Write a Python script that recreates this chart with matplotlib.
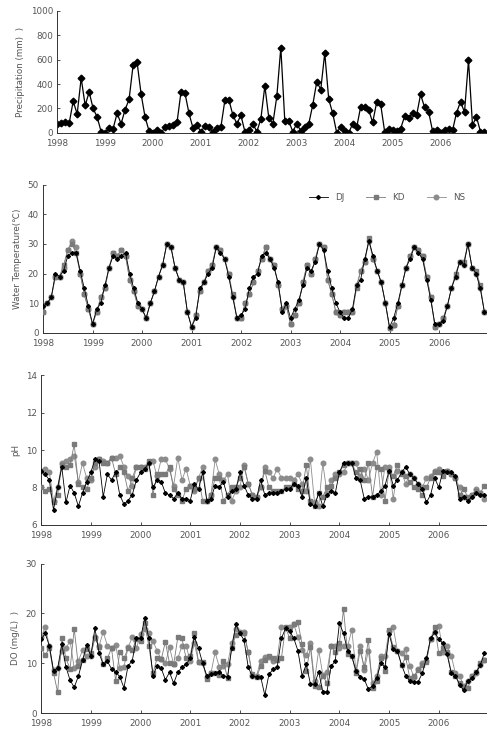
import numpy as np
import matplotlib
matplotlib.use('Agg')
import matplotlib.pyplot as plt

# monthly series, Jan 1998 - Dec 2006
months = 1998 + np.arange(108) / 12.0
years = list(range(1998, 2007))

precip = [75, 80, 85, 80, 260, 155, 450, 225, 335, 200, 130, 10,
          0, 40, 35, 160, 75, 190, 275, 555, 580, 320, 130, 15,
          0, 25, 0, 45, 60, 65, 85, 335, 325, 160, 40, 65,
          5, 60, 50, 5, 40, 50, 270, 270, 145, 75, 145, 10,
          20, 75, 10, 115, 385, 120, 75, 300, 700, 95, 95, 10,
          75, 15, 45, 75, 230, 420, 355, 655, 275, 160, 0, 50,
          15, 0, 75, 45, 215, 210, 190, 85, 250, 235, 10, 35,
          25, 15, 35, 135, 120, 165, 145, 315, 210, 175, 15, 25,
          0, 20, 30, 20, 165, 255, 170, 595, 65, 130, 10, 5]

temp_dj = [9, 10, 12, 20, 19, 21, 26, 27, 27, 21, 15, 9,
           3, 8, 10, 16, 22, 26, 25, 26, 27, 20, 15, 10,
           8, 5, 10, 14, 19, 23, 30, 29, 22, 18, 17, 7,
           2, 5, 15, 17, 20, 22, 29, 27, 25, 19, 12, 5,
           6, 8, 15, 19, 20, 26, 27, 25, 22, 17, 7, 10,
           5, 8, 11, 16, 22, 21, 24, 30, 28, 21, 15, 10,
           7, 5, 5, 8, 16, 18, 25, 31, 26, 21, 17, 10,
           2, 5, 10, 16, 22, 25, 29, 27, 25, 18, 11, 3,
           3, 4, 9, 15, 19, 24, 23, 30, 22, 20, 15, 7]
temp_kd = [7, 10, 12, 19, 19, 23, 28, 30, 27, 20, 13, 8,
           3, 7, 12, 15, 22, 27, 26, 28, 26, 18, 14, 9,
           8, 5, 10, 14, 19, 23, 30, 29, 22, 18, 17, 7,
           2, 6, 14, 17, 21, 23, 29, 28, 25, 20, 13, 5,
           5, 10, 13, 17, 21, 25, 29, 25, 23, 16, 8, 9,
           3, 6, 10, 17, 23, 20, 25, 30, 29, 18, 13, 7,
           6, 7, 7, 7, 15, 21, 24, 32, 25, 21, 17, 10,
           1.5, 2.5, 9, 16, 22, 26, 29, 28, 26, 19, 12, 2,
           3, 5, 9, 15, 20, 24, 24, 30, 22, 21, 16, 7]
temp_ns = [7, 10, 12, 19, 19, 22, 28, 31, 29, 20, 13, 8,
           3, 7, 12, 15, 22, 27, 26, 28, 26, 18, 14, 9,
           8, 5, 10, 14, 19, 23, 30, 29, 22, 18, 17, 7,
           2, 6, 14, 17, 21, 23, 29, 28, 25, 20, 12, 5,
           5, 10, 13, 17, 21, 25, 29, 25, 23, 16, 8, 9,
           3, 6, 10, 17, 23, 20, 25, 30, 29, 18, 13, 7,
           6, 7, 7, 7, 16, 21, 24, 31, 25, 21, 17, 10,
           1.5, 2.5, 9, 16, 22, 26, 29, 28, 26, 19, 12, 2,
           3, 5, 9, 15, 19, 24, 23, 30, 22, 20, 15, 7]

ph_dj = [8.9, 8.7, 8.4, 6.8, 8.0, 9.1, 7.2, 8.1, 7.7, 7.0, 7.7, 8.3,
         8.8, 9.5, 9.4, 7.5, 8.7, 8.4, 8.8, 7.6, 7.1, 7.3, 7.6, 8.4,
         8.8, 9.0, 9.3, 8.0, 8.4, 8.3, 7.7, 7.6, 7.4, 7.7, 7.4, 7.4,
         7.3, 8.2, 7.9, 8.8, 7.3, 7.4, 8.1, 8.0, 8.3, 7.5, 7.8, 7.9,
         8.8, 8.1, 7.6, 7.4, 7.4, 8.4, 7.6, 7.7, 7.7, 7.7, 7.8, 7.9,
         7.9, 8.2, 8.1, 7.5, 8.5, 7.1, 7.0, 7.7, 7.0, 7.6, 7.8, 7.7,
         8.8, 9.3, 9.3, 9.3, 8.5, 8.4, 7.4, 7.5, 7.5, 7.6, 7.8, 8.1,
         8.9, 8.1, 8.4, 8.8, 9.1, 8.7, 8.5, 8.2, 7.9, 7.2, 7.6, 8.5,
         8.0, 8.9, 8.8, 8.8, 8.6, 7.4, 7.5, 7.3, 7.5, 7.7, 7.6, 7.6]
ph_kd = [8.0, 7.8, 7.9, 7.2, 7.6, 9.2, 9.1, 9.2, 10.3, 8.2, 8.0, 7.9,
         8.5, 9.3, 9.5, 9.3, 9.3, 9.6, 8.7, 9.1, 8.8, 7.8, 8.5, 9.1,
         9.1, 9.0, 9.4, 7.6, 8.7, 8.7, 8.7, 9.1, 7.9, 7.6, 7.3, 7.9,
         8.1, 7.9, 8.5, 7.3, 7.3, 7.6, 8.5, 8.5, 7.3, 7.6, 8.0, 8.0,
         8.5, 9.1, 8.2, 7.6, 7.5, 8.0, 8.9, 8.0, 7.8, 7.8, 7.8, 8.0,
         8.0, 8.2, 7.9, 7.8, 9.2, 7.3, 7.0, 7.7, 7.5, 8.0, 8.1, 8.5,
         8.8, 9.2, 9.3, 9.3, 8.8, 9.0, 8.4, 9.3, 7.5, 9.1, 9.0, 7.3,
         8.9, 8.6, 9.2, 8.7, 8.6, 8.3, 8.0, 7.9, 7.6, 8.0, 8.5, 8.8,
         8.8, 8.6, 8.9, 8.7, 8.5, 7.6, 7.9, 7.5, 7.6, 7.8, 7.7, 8.1]
ph_ns = [8.9, 9.0, 8.8, 7.3, 8.0, 9.3, 9.4, 9.5, 9.7, 8.3, 9.3, 8.5,
         8.4, 9.1, 9.5, 9.4, 9.3, 9.6, 9.6, 9.7, 9.1, 8.6, 8.1, 9.1,
         9.1, 9.1, 9.3, 9.4, 8.6, 9.5, 9.5, 9.0, 8.1, 9.6, 8.4, 9.0,
         8.1, 7.8, 8.5, 9.1, 7.3, 7.6, 9.5, 8.7, 8.4, 8.7, 7.3, 7.8,
         8.0, 9.2, 8.2, 7.6, 7.5, 8.0, 9.1, 8.8, 8.5, 9.0, 8.5, 8.5,
         8.5, 8.4, 8.7, 8.2, 7.8, 9.5, 7.2, 7.0, 9.3, 7.7, 8.4, 8.7,
         8.7, 8.8, 9.3, 9.3, 9.3, 8.6, 9.0, 8.4, 9.3, 9.9, 7.6, 9.1,
         9.1, 7.4, 8.9, 8.8, 8.2, 8.7, 8.5, 8.2, 8.0, 8.5, 8.6, 8.9,
         9.0, 8.8, 8.9, 8.7, 8.5, 8.0, 7.5, 7.4, 7.6, 7.9, 7.7, 7.4]

do_dj = [14.8, 16, 13.5, 8.5, 9, 13.8, 9.3, 6.6, 5.2, 7.4, 10.6, 13.6,
         11.5, 17, 12, 9.8, 10.4, 8.9, 8.3, 7.3, 5.1, 9.5, 10.5, 15,
         15, 19, 15, 7.5, 9.5, 9, 6.7, 8.2, 6.0, 8.2, 9.2, 9.8,
         11, 15.3, 13, 10, 7.5, 7.8, 8, 8.3, 7.5, 7.3, 13, 17.8,
         16, 14.6, 9.2, 7.4, 7.3, 7.3, 3.6, 7.8, 8.8, 9.3, 15, 17,
         16.4, 15, 12.5, 7.5, 9.8, 5.9, 5.8, 8.3, 4.3, 4.3, 9.4, 10.5,
         18, 16, 12.4, 11.4, 8.5, 7.3, 6.8, 4.8, 5.5, 7, 10, 9.3,
         15.8, 12.8, 12.5, 9.7, 7.5, 6.5, 6.3, 6.3, 8, 11, 15, 16.2,
         14.8, 14, 11.8, 8, 7.5, 5.7, 4.6, 6.5, 7, 8.2, 9.6, 12.1]
do_kd = [13, 11.7, 13, 8.1, 4.2, 15, 11, 8.9, 16.9, 9.5, 10.6, 12.8,
         12, 15, 13.3, 9.8, 11, 13, 6.5, 12.3, 11, 13, 12.7, 14.9,
         14.5, 18, 13.5, 8, 11, 10.8, 14.3, 10, 9.8, 15.2, 15, 11,
         11.5, 16, 10.2, 10.2, 6.8, 8, 8, 7.6, 10.5, 7, 13, 15.7,
         16, 16, 12.2, 7.8, 7.2, 9.4, 10.6, 11.5, 11, 10.6, 11, 17.2,
         15, 17.8, 18.2, 13.8, 8.4, 13.3, 5.5, 5.2, 7.5, 6, 13.5, 12.3,
         14, 20.8, 11.8, 11.5, 8, 12.5, 9.3, 14.7, 5, 6.5, 11, 8.5,
         16.6, 13.2, 12.5, 9.6, 11.2, 7, 7.5, 8.6, 9.7, 10.2, 14.8, 17.2,
         12, 13, 12.3, 8.2, 7.5, 6, 5.2, 5, 7.5, 8.3, 10, 10.7]
do_ns = [15.2, 17.3, 13.5, 8.6, 9, 12.4, 13, 14.5, 9, 10.5, 12.6, 11.5,
         11.5, 15.2, 13.5, 16.3, 13.5, 13, 13.7, 9, 9.3, 13.2, 15.2, 13,
         15.8, 16.8, 16, 14.5, 12.5, 10.8, 10, 13.2, 9.8, 11, 13.5, 13.5,
         10.5, 14, 10.3, 10, 7.3, 8, 12.2, 9.3, 9.5, 9.8, 14, 16.8,
         16.2, 16.2, 12.2, 7.5, 7.5, 10.5, 11.3, 11.2, 10.5, 11, 17.2, 17,
         17.2, 17.8, 15.2, 12.7, 11.6, 14, 6.5, 12.7, 7.7, 8.3, 13.5, 13.5,
         13, 13.5, 13.5, 16.7, 8.5, 13.5, 8.7, 12.5, 6, 7.5, 11.5, 11.5,
         16.5, 17.2, 12.5, 12, 12.8, 9.5, 7.2, 8.8, 10, 10.5, 14.8, 16.2,
         17.4, 12.3, 13.5, 11.5, 8, 7.5, 5.5, 6.5, 7.5, 8, 9.7, 10.7]

txt = '#555555'
plt.rcParams['font.family'] = ['DejaVu Sans']
plt.rcParams['font.size'] = 6.3

fig = plt.figure(figsize=(4.89, 7.30), dpi=100)

def style_axes(ax, ylim, yticks, ylabel):
    ax.set_xlim(1998, 2006.95)
    ax.set_ylim(ylim)
    ax.set_yticks(yticks)
    ax.set_xticks(years)
    ax.set_xticklabels([str(y) for y in years])
    for s in ['top', 'right']:
        ax.spines[s].set_visible(False)
    for s in ['left', 'bottom']:
        ax.spines[s].set_color('#333333')
        ax.spines[s].set_linewidth(0.7)
    ax.tick_params(direction='in', length=2, width=0.6, colors='#333333',
                   labelcolor=txt, labelsize=6.3)
    ax.tick_params(axis='x', pad=4.5)
    ax.tick_params(axis='y', pad=3)
    ax.set_ylabel(ylabel, color=txt, fontsize=6.3, labelpad=4)

def three(ax, dj, kd, ns):
    ax.plot(months, ns, '-o', color='#8c8c8c', ms=3.3, lw=0.6, label='NS', zorder=2)
    ax.plot(months, kd, '-s', color='#7a7a7a', ms=2.9, lw=0.6, label='KD', zorder=3)
    ax.plot(months, dj, '-D', color='black', ms=2.0, lw=0.6, label='DJ', zorder=4)

# precipitation
ax1 = fig.add_axes([0.117, 0.818, 0.877, 0.167])
ax1.plot(months, precip, '-D', color='black', ms=3.4, lw=0.9)
style_axes(ax1, (0, 1000), range(0, 1001, 200), 'Precipitation (mm)  )')

# water temperature
ax2 = fig.add_axes([0.088, 0.544, 0.906, 0.203])
three(ax2, temp_dj, temp_kd, temp_ns)
style_axes(ax2, (0, 50), range(0, 51, 10), 'Water Temperature(\u2103)')
h, l = ax2.get_legend_handles_labels()
leg = ax2.legend(h[::-1], l[::-1], loc='upper right', ncol=3, frameon=False,
                 fontsize=6.3, handlelength=2.2, columnspacing=2.5,
                 bbox_to_anchor=(0.97, 1.0))
for t in leg.get_texts():
    t.set_color(txt)

# pH
ax3 = fig.add_axes([0.084, 0.281, 0.91, 0.205])
three(ax3, ph_dj, ph_kd, ph_ns)
style_axes(ax3, (6, 14), range(6, 15, 2), 'pH')

# DO
ax4 = fig.add_axes([0.084, 0.023, 0.91, 0.205])
three(ax4, do_dj, do_kd, do_ns)
style_axes(ax4, (0, 30), range(0, 31, 10), 'DO (mg/L)  )')

fig.savefig('out.png', dpi=100)
